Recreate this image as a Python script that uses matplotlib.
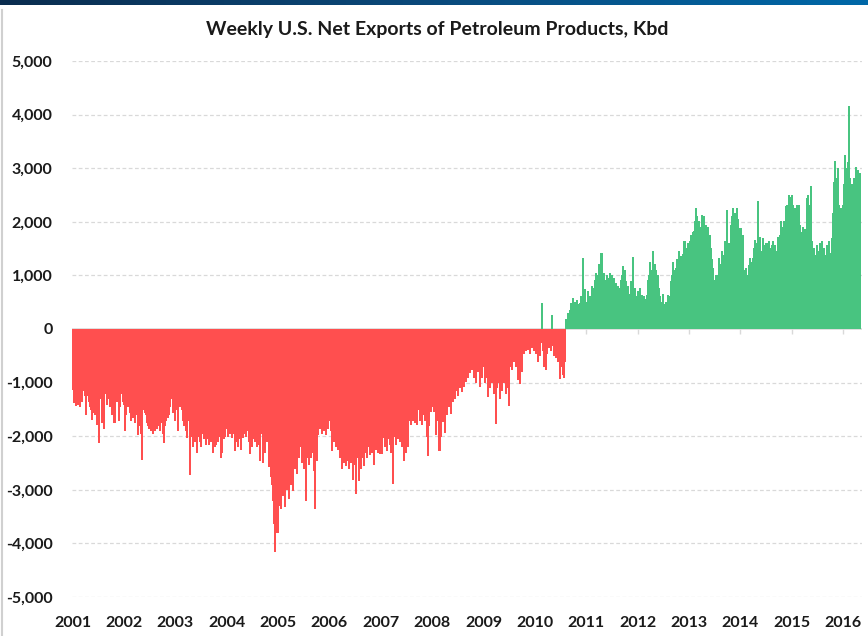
import numpy as np
import matplotlib
matplotlib.use('Agg')
import matplotlib.pyplot as plt
from matplotlib.lines import Line2D
from matplotlib.colors import LinearSegmentedColormap

# weekly net exports, kbd (52 weeks per year)
years = list(range(2001, 2017))

y2001 = [-1130, -1380, -1250, -1420, -1180, -1410, -1300, -1450, -1200, -1350,
         -1050, -1150, -1250, -1600, -1250, -1200, -1350, -1450, -1500, -1690,
         -1400, -1550, -1600, -1450, -1785, -1350, -2115, -1300, -1100, -1750,
         -1500, -1850, -900, -1200, -1400, -1100, -1300, -1450, -1250, -1050,
         -1600, -1300, -1750, -1200, -1000, -1350, -900, -1700, -1450, -1100,
         -1200, -1350]
y2002 = [-1400, -1900, -1600, -1420, -1450, -1250, -1550, -1700, -1400, -1650,
         -1500, -1750, -1600, -1450, -1970, -1500, -1800, -1950, -2440, -1500,
         -1400, -1550, -1600, -1750, -1800, -1850, -1700, -1900, -1800, -1950,
         -1750, -1900, -1700, -1850, -1800, -1650, -1900, -1750, -1600, -1950,
         -2125, -1800, -1700, -1550, -1650, -1600, -1450, -1300, -1250, -1550,
         -1400, -1700]
y2003 = [-1500, -1100, -1900, -1200, -1450, -1300, -1500, -1700, -1800, -1650,
         -1900, -2030, -1600, -1700, -2715, -1900, -2000, -2200, -1900, -2100,
         -1850, -1700, -2310, -2000, -1900, -2100, -2200, -1700, -1950, -2050,
         -2000, -2150, -1900, -2050, -2150, -2000, -2100, -1850, -2300, -2000,
         -2200, -2150, -1950, -2100, -2000, -1900, -2400, -2300, -1950, -2050,
         -2000, -1800]
y2004 = [-1850, -2000, -1780, -1950, -1900, -2020, -1800, -1950, -2270, -2100,
         -1900, -2200, -2050, -1950, -2250, -1780, -2020, -1850, -1950, -2000,
         -1900, -1800, -2100, -2330, -2020, -2200, -2050, -1900, -2100, -1780,
         -2200, -2000, -2150, -2460, -1950, -1900, -2500, -1960, -2310, -1750,
         -2100, -2060, -2560, -2270, -2760, -2900, -3200, -3630, -4150, -3500,
         -3600, -3800]
y2005 = [-3800, -3300, -2900, -3350, -2600, -3100, -2800, -3320, -2770, -3000,
         -2600, -3170, -2400, -2900, -2700, -3010, -2300, -2600, -2100, -2700,
         -1900, -2400, -1720, -2200, -2500, -1800, -2600, -2300, -3200, -2400,
         -2100, -2520, -2200, -2400, -2000, -2300, -2640, -3350, -2200, -2450,
         -1960, -1700, -1850, -1530, -1950, -1600, -1900, -1750, -1960, -1650,
         -1850, -1700]
y2006 = [-1650, -1900, -2270, -1780, -2100, -1850, -2200, -1950, -2250, -2000,
         -2400, -2150, -2610, -2300, -2500, -2200, -2550, -2350, -2450, -2600,
         -2300, -2500, -2350, -2800, -2450, -2520, -3070, -2300, -2400, -2200,
         -2830, -2000, -2600, -2400, -1960, -2550, -2300, -2100, -2400, -1900,
         -2200, -2350, -2000, -2300, -1960, -2520, -2100, -2250, -2000, -2300,
         -2150, -2330]
y2007 = [-2100, -2330, -2020, -1850, -2200, -1950, -2270, -2050, -1900, -2150,
         -2300, -2100, -2890, -2000, -1850, -2150, -1950, -2050, -1900, -2100,
         -1850, -2200, -1900, -2460, -2100, -2300, -1950, -2190, -1700, -1530,
         -1780, -1600, -1700, -1570, -1750, -1650, -1780, -1500, -1410, -1700,
         -1550, -1780, -1600, -1450, -1700, -1500, -2000, -2360, -1800, -1410,
         -1530, -1450]
y2008 = [-1450, -1530, -1300, -1960, -1160, -1700, -1650, -2270, -1400, -2000,
         -1390, -1720, -1500, -1940, -1200, -1600, -1100, -1450, -1300, -1570,
         -1050, -1350, -900, -1300, -1150, -1000, -1250, -830, -1100, -740,
         -1160, -800, -1070, -650, -980, -700, -900, -500, -820, -600,
         -750, -420, -900, -550, -1000, -650, -800, -450, -1070, -700,
         -900, -600]
y2009 = [-700, -1000, -600, -900, -1260, -800, -1100, -650, -1000, -750,
         -1200, -900, -1760, -1100, -850, -1000, -1300, -700, -1150, -900,
         -1000, -580, -1200, -800, -1100, -1420, -700, -500, -760, -330,
         -600, -450, -700, -400, -950, -550, -1010, -450, -800, -600,
         -300, -450, -200, -400, -250, -380, -300, -450, -240, -350,
         -280, -400]
y2010 = [-300, -450, -200, -600, -350, -500, -250, 480, -400, -700,
         -300, -760, -450, -200, -350, -150, -400, 260, -300, -500,
         -250, -530, -350, -600, -400, -920, -500, -700, -850, -900,
         -600, 170, 150, 290, 200, 350, 480, 230, 570, 400,
         500, 300, 540, 450, 350, 480, 600, 520, 1320, 700,
         730, 500]
y2011 = [450, 700, 300, 600, 230, 790, 500, 750, 900, 1040,
         850, 1000, 1200, 1100, 1300, 1410, 800, 1040, 650, 900,
         540, 1000, 950, 800, 1040, 900, 1000, 820, 950, 700,
         850, 600, 800, 480, 750, 900, 1000, 1160, 950, 1100,
         880, 700, 800, 500, 650, 880, 600, 1330, 500, 760,
         380, 600]
y2012 = [700, 400, 760, 500, 630, 480, 600, 550, 450, 620,
         900, 1000, 1250, 1100, 800, 1450, 1000, 1200, 1100, 900,
         1000, 760, 600, 500, 380, 650, 450, 230, 500, 300,
         630, 400, 600, 880, 1000, 1250, 950, 1100, 1130, 1300,
         1200, 1440, 1150, 1350, 1250, 1190, 1400, 1630, 1300, 1500,
         1450, 1600]
y2013 = [1500, 1630, 1750, 1400, 1810, 1650, 2000, 2250, 2100, 1750,
         2000, 1650, 1900, 2120, 1950, 2100, 1800, 1940, 1630, 1900,
         1700, 1750, 1500, 1300, 1130, 900, 760, 1000, 800, 1000,
         1320, 1100, 1200, 1450, 1380, 1200, 1630, 1400, 2220, 1550,
         1600, 1450, 1940, 2100, 2250, 1800, 2150, 1950, 2250, 2050,
         1880, 1700]
y2014 = [1880, 1630, 1750, 1100, 880, 1130, 950, 1000, 1190, 1310,
         1250, 1100, 1310, 1500, 1650, 1400, 1600, 2380, 1550, 1700,
         1440, 1200, 1690, 1300, 1550, 1100, 1600, 1450, 1250, 1630,
         1500, 1150, 1560, 1630, 1300, 1550, 1440, 1200, 1700, 1600,
         1750, 2000, 1500, 1900, 2000, 1800, 2280, 2310, 2100, 2500,
         2350, 2450]
y2015 = [2500, 2310, 2150, 2250, 1900, 2300, 2200, 2310, 1940, 1800,
         1570, 1900, 1400, 1850, 1650, 2430, 2500, 2200, 2300, 2650,
         1630, 1200, 1500, 1380, 1000, 1550, 1450, 1250, 1600, 1400,
         1630, 1150, 1500, 1380, 1300, 1550, 1450, 1630, 1200, 1400,
         1690, 2150, 2740, 3120, 2600, 2800, 3000, 2310, 1900, 2250,
         2200, 2300]
y2016 = [2700, 3240, 2620, 3000, 2400, 3100, 4150, 2800, 2500, 2700,
         2200, 2800, 2740, 3020, 2500, 2950, 2750, 2900]

weekly = [y2001, y2002, y2003, y2004, y2005, y2006, y2007, y2008,
          y2009, y2010, y2011, y2012, y2013, y2014, y2015, y2016]

x = []
vals = []
for yr, wk in zip(years, weekly):
    for j, v in enumerate(wk):
        x.append(yr + (j + 0.5) / 52)
        vals.append(v)
x = np.array(x)
vals = np.array(vals)

plt.rcParams['font.family'] = ['Lato', 'DejaVu Sans']

W, H = 868, 636
fig = plt.figure(figsize=(W / 100, H / 100), dpi=100)

# blue strip at the top
top = fig.add_axes([0, 1 - 5 / H, 1, 5 / H])
cmap = LinearSegmentedColormap.from_list('strip', ['#0b2d4f', '#0a4a7c', '#0068a8'])
top.imshow(np.linspace(0, 1, 256)[None, :], aspect='auto', cmap=cmap)
top.axis('off')

fig.add_artist(Line2D([1.5 / W, 1.5 / W], [0, 1 - 10 / H], color='#d0d0d0', lw=1.5,
                      transform=fig.transFigure))

ax = fig.add_axes([72 / W, 1 - 597 / H, 790 / W, 536 / H])
px_year = 51.37
ax.set_xlim(2001 - 0.5 / px_year, 2001 + 789.5 / px_year)
ax.set_ylim(-5000, 5000)

colors = np.where(vals < 0, '#FF4F4F', '#48C480')
bars = ax.bar(x, vals, width=1.05 / 52, color=colors, linewidth=0, zorder=2)
for b in bars:
    b.set_snap(False)
    b.set_antialiased(False)

yt = np.arange(-5000, 5001, 1000)
for v in yt:
    if v != 0:
        ax.axhline(v, color='#d9d9d9', lw=0.9, ls=(0, (3, 2)), zorder=0)
ax.axhline(0, color='#d9d9d9', lw=1.2, zorder=1)
ax.vlines(years, -90, 0, color='#d9d9d9', lw=1, zorder=1)

ax.set_yticks(yt)
ax.set_yticklabels([f'{v:,}' for v in yt], fontsize=11.5, fontweight='bold', color='#1a1a1a')
ax.set_xticks(years)
ax.set_xticklabels([str(y) for y in years], fontsize=11.5, fontweight='bold', color='#1a1a1a')
ax.tick_params(axis='y', length=0, pad=14)
ax.tick_params(axis='x', length=0, pad=14)
for s in ax.spines.values():
    s.set_visible(False)

fig.text(437.5 / W, 1 - 30 / H, 'Weekly U.S. Net Exports of Petroleum Products, Kbd',
         ha='center', va='center', fontsize=14, fontweight='bold', color='#1a1a1a')

fig.savefig('out.png', dpi=100)
